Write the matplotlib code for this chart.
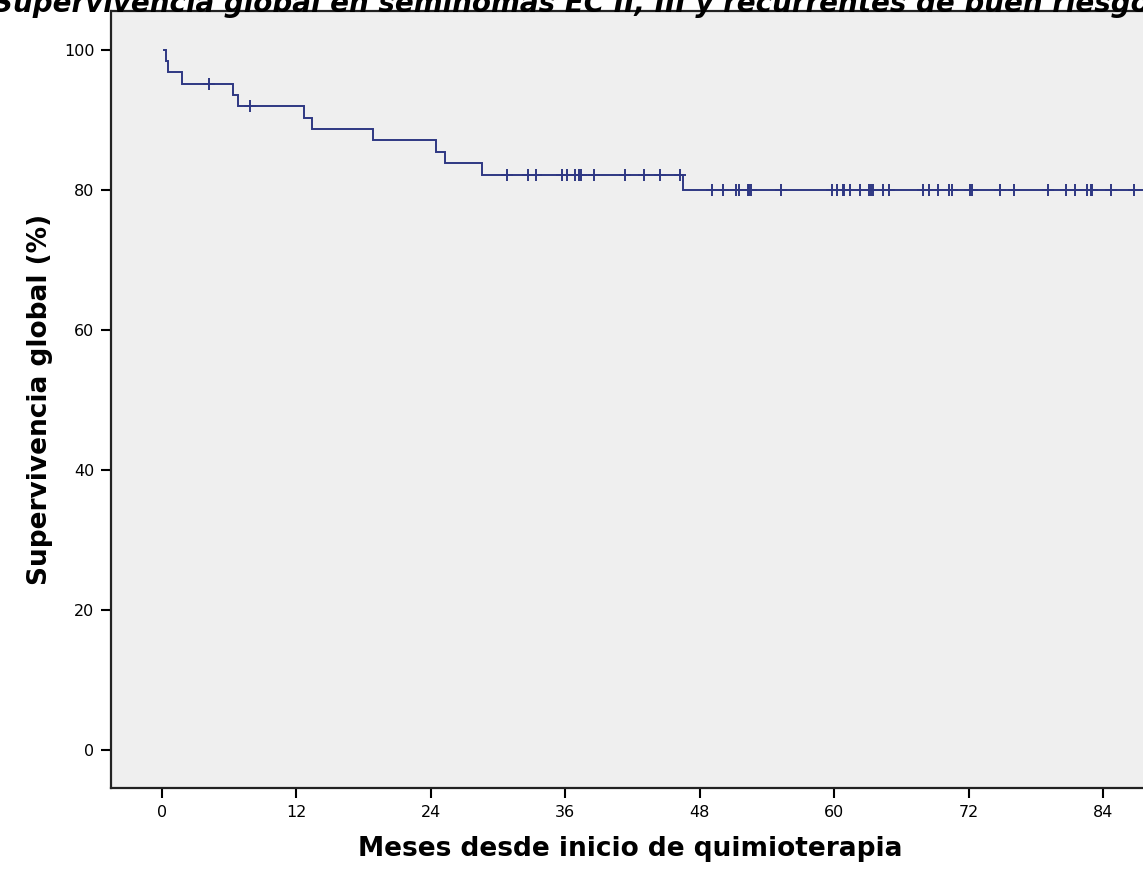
import matplotlib
matplotlib.use("Agg")
import matplotlib.pyplot as plt

# Kaplan-Meier curve
# event times (months) and survival (%) right after each event
event_times = [0.35, 0.55, 1.75, 6.3, 6.8, 12.7, 13.4, 18.8, 24.5, 25.3, 28.6, 46.5]
survival_after = [98.4, 96.8, 95.2, 93.6, 92.0, 90.3, 88.7, 87.1, 85.4, 83.8, 82.1, 80.0]

# censored observations (months)
censor_times = [
    4.2, 7.9,
    30.8, 32.7, 33.4, 35.7, 36.2, 36.9, 37.2, 37.4, 38.6, 41.3, 43.0, 44.5, 46.2,
    49.1, 50.1, 51.2, 51.5, 52.3, 52.4, 52.6, 55.3,
    59.8, 60.3, 60.8, 60.9, 61.4, 62.3, 63.1, 63.3, 63.5, 64.4, 64.9,
    67.9, 68.5, 69.3, 70.3, 70.5, 72.1, 72.3, 74.8, 76.1,
    79.1, 80.7, 81.5, 82.6, 82.9, 83.0, 84.7, 86.8,
]
end_time = 89.0

x_ticks = [0, 12, 24, 36, 48, 60, 72, 84]
y_ticks = [0, 20, 40, 60, 80, 100]

title = "Supervivencia global en seminomas EC II, III y recurrentes de buen riesgo"
x_label = "Meses desde inicio de quimioterapia"
y_label = "Supervivencia global (%)"

LINE_COLOR = "#2E3783"
BG_COLOR = "#EFEFEF"

# step path
times = [0.15] + event_times + [end_time]
levels = [100.0] + survival_after + [survival_after[-1]]


def level_at(t):
    s = 100.0
    for et, sv in zip(event_times, survival_after):
        if et <= t:
            s = sv
    return s


fig = plt.figure(figsize=(11.43, 8.71), dpi=100)
ax = fig.add_axes([111 / 1143, 83 / 871, (1150 - 111) / 1143, (788 - 11) / 871])
ax.set_facecolor(BG_COLOR)

ax.step(times, levels, where="post", color=LINE_COLOR, linewidth=1.4,
        solid_joinstyle="miter")
censor_y = [level_at(t) for t in censor_times]
ax.plot(censor_times, censor_y, linestyle="none",
        marker="|", markersize=9, markeredgewidth=1.4, color=LINE_COLOR)
ax.plot(censor_times, censor_y, linestyle="none",
        marker="_", markersize=9, markeredgewidth=1.4, color=LINE_COLOR)

ax.set_xlim(-4.55, 88.2)
ax.set_ylim(-5.43, 105.57)
ax.set_xticks(x_ticks)
ax.set_yticks(y_ticks)
ax.tick_params(direction="out", length=7, width=1.5, labelsize=11.5,
               colors="black", pad=5)

for side in ("left", "bottom", "top", "right"):
    ax.spines[side].set_linewidth(1.6)
    ax.spines[side].set_color("#222222")

ax.set_xlabel(x_label, fontsize=19, fontweight="bold", labelpad=12)
ax.set_ylabel(y_label, fontsize=19, fontweight="bold", labelpad=8)

# title sits mostly above the figure edge, as in the original export
fig.text(571 / 1143, 1 - 4 / 871, title, ha="center", va="center",
         fontsize=20, fontweight="bold", style="italic")

fig.savefig("out.png", dpi=100, facecolor="white")
